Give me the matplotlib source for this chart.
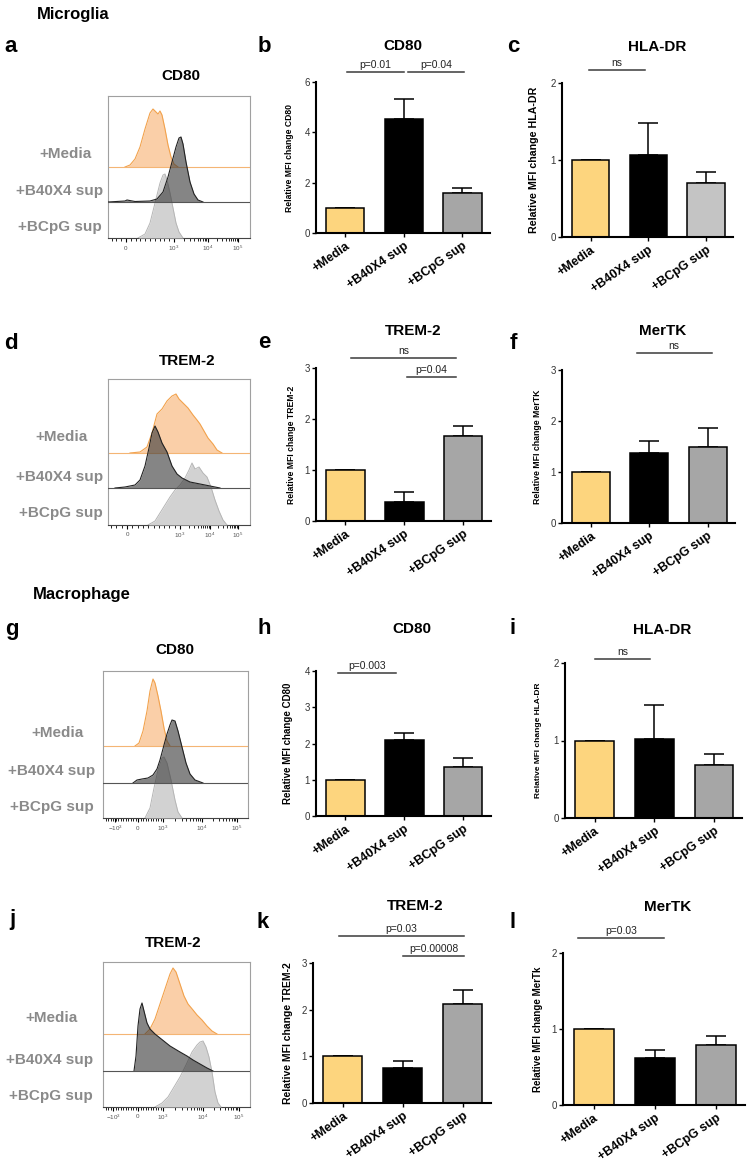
import numpy as np
import matplotlib
matplotlib.use("Agg")
from matplotlib import pyplot as plt

plt.rcParams['font.family'] = ['Liberation Sans', 'DejaVu Sans']
plt.rcParams['mathtext.default'] = 'regular'

W, H = 749, 1164

groups = ['+Media', '+B40X4 sup', '+BCpG sup']

# relative MFI (mean) and upper error
cd80_mg = [1.0, 4.52, 1.58]
cd80_mg_err = [0.0, 0.82, 0.19]
hladr_mg = [1.0, 1.06, 0.70]
hladr_mg_err = [0.0, 0.42, 0.15]
trem2_mg = [1.0, 0.38, 1.67]
trem2_mg_err = [0.0, 0.19, 0.19]
mertk_mg = [1.0, 1.37, 1.50]
mertk_mg_err = [0.0, 0.23, 0.36]
cd80_mac = [1.0, 2.10, 1.35]
cd80_mac_err = [0.0, 0.19, 0.26]
hladr_mac = [1.0, 1.02, 0.68]
hladr_mac_err = [0.0, 0.44, 0.15]
trem2_mac = [1.0, 0.75, 2.12]
trem2_mac_err = [0.0, 0.15, 0.30]
mertk_mac = [1.0, 0.62, 0.79]
mertk_mac_err = [0.0, 0.10, 0.12]

# flow histograms: channel (from left of plot) and count, per condition
a_media_x = [17, 22, 27, 32, 37, 42, 45, 48, 50, 52, 54, 57, 60, 63, 66, 70]
a_media_y = [0, 2, 8, 20, 38, 54, 58, 55, 53, 56, 52, 38, 22, 10, 3, 0]
a_b40_x = [0, 17, 19, 27, 42, 49, 55, 60, 64, 68, 71, 73, 75, 78, 82, 86, 90, 95]
a_b40_y = [0, 1, 2, 0.5, 1, 3, 10, 25, 40, 55, 64, 65, 58, 40, 20, 8, 2, 0]
a_bcpg_x = [30, 37, 42, 47, 52, 55, 57, 59, 62, 65, 68, 71, 75]
a_bcpg_y = [0, 4, 15, 35, 55, 63, 64, 58, 45, 30, 15, 6, 0]

d_media_x = [22, 32, 39, 44, 49, 54, 59, 64, 68, 71, 75, 80, 85, 89, 92, 96, 100, 105, 109, 114]
d_media_y = [0, 1, 6, 20, 39, 44, 52, 57, 59, 54, 50, 45, 38, 33, 29, 22, 15, 9, 3, 0]
d_b40_x = [7, 17, 27, 32, 37, 41, 44, 47, 50, 54, 59, 64, 69, 74, 82, 92, 102, 112]
d_b40_y = [0, 1, 3, 8, 22, 40, 55, 62, 56, 45, 36, 22, 14, 10, 6, 4, 2, 0]
d_bcpg_x = [40, 47, 52, 57, 62, 67, 72, 77, 81, 84, 87, 91, 95, 99, 103, 107, 111, 115, 119]
d_bcpg_y = [0, 4, 12, 20, 28, 35, 40, 47, 55, 62, 56, 58, 52, 48, 38, 25, 14, 5, 0]

g_media_x = [32, 36, 40, 44, 47, 50, 52, 55, 58, 61, 64, 67]
g_media_y = [0, 3, 15, 35, 55, 67, 63, 50, 35, 18, 5, 0]
g_b40_x = [30, 34, 39, 45, 50, 54, 57, 61, 64, 67, 69, 72, 75, 79, 83, 87, 92, 100]
g_b40_y = [0, 3, 4, 5, 8, 14, 23, 38, 49, 58, 63, 62, 52, 36, 20, 9, 3, 0]
g_bcpg_x = [42, 47, 51, 55, 59, 61, 64, 68, 72, 75, 79]
g_bcpg_y = [0, 10, 30, 48, 60, 61, 55, 38, 18, 6, 0]

j_media_x = [42, 47, 52, 57, 62, 67, 70, 73, 77, 81, 85, 90, 94, 99, 104, 109, 114]
j_media_y = [0, 5, 15, 30, 45, 60, 66, 62, 50, 38, 30, 24, 19, 14, 8, 3, 0]
j_b40_x = [31, 33, 35, 37, 39, 41, 44, 47, 52, 57, 62, 67, 72, 77, 84, 90, 97, 104, 110]
j_b40_y = [0, 15, 45, 62, 68, 60, 48, 42, 37, 33, 29, 25, 22, 19, 15, 11, 7, 3, 0]
j_bcpg_x = [52, 59, 65, 71, 77, 83, 89, 94, 97, 100, 103, 106, 109, 112, 115, 118]
j_bcpg_y = [0, 4, 10, 20, 30, 42, 55, 62, 65, 66, 60, 50, 35, 15, 4, 0]

tick_text_pos = ['0', '10$^3$', '10$^4$', '10$^5$']
tick_text_full = ['\u221210$^3$', '0', '10$^3$', '10$^4$', '10$^5$']

fig = plt.figure(figsize=(W / 100, H / 100), dpi=100)


def px_axes(x0, y0, x1, y1):
    return fig.add_axes([x0 / W, 1 - y1 / H, (x1 - x0) / W, (y1 - y0) / H])


def ftext(x, y, s, **kw):
    fig.text(x / W, 1 - y / H, s, **kw)


def hist_panel(box, curves, bases, ticks, tlabels, title, title_xy, label_xs, label_ys):
    x0, y0, x1, y1 = box
    ax = px_axes(x0, y0, x1, y1)
    ax.set_xlim(0, x1 - x0)
    ax.set_ylim(0, y1 - y0)
    (mx, my), (bx, by), (cx, cy) = curves
    b_b40, b_med = bases
    mx, my = np.array(mx), np.array(my) + b_med
    ax.fill_between(mx, b_med, my, color='#F9C393', alpha=0.8, lw=0, zorder=1)
    ax.plot(mx, my, color='#F2A24C', lw=0.8, zorder=2)
    ax.axhline(b_med, color='#F4B574', lw=0.8, zorder=2)
    ax.fill_between(cx, 0, cy, color='#D2D2D2', lw=0, zorder=3)
    ax.plot(cx, cy, color='#B5B5B5', lw=0.7, zorder=3)
    by = np.array(by) + b_b40
    ax.fill_between(bx, b_b40, by, color='#3a3a3a', alpha=0.62, lw=0, zorder=4)
    ax.plot(bx, by, color='#222222', lw=0.8, zorder=5)
    ax.axhline(b_b40, color='#555555', lw=0.8, zorder=5)
    for s in ax.spines.values():
        s.set_color('#A0A0A0')
        s.set_linewidth(0.8)
    ax.spines['bottom'].set_color('#444444')
    # minor ticks on the biex scale
    p3, p4, p5 = ticks[-3], ticks[-2], ticks[-1]
    minors = []
    for a, b in [(p3, p4), (p4, p5)]:
        minors += [a + np.log10(m) * (b - a) for m in range(2, 10)]
    step = (p3 - ticks[-4]) / 10
    minors += list(np.arange(p3 - step, 0, -step))
    ax.set_xticks(ticks)
    ax.set_xticks(minors, minor=True)
    ax.set_xticklabels([])
    ax.set_yticks([])
    ax.tick_params(axis='x', which='major', length=3, width=0.8, color='black')
    ax.tick_params(axis='x', which='minor', length=1.8, width=0.6, color='black')
    for t, lab in zip(ticks, tlabels):
        ftext(x0 + t, y1 + 10, lab, fontsize=4.5, color='#555555', ha='center', va='center')
    ftext(title_xy[0], title_xy[1], title, fontsize=11, fontweight='bold', ha='center', va='center')
    for lx, ly, g in zip(label_xs, label_ys, groups):
        ftext(lx, ly, g, fontsize=11, fontweight='bold', color='#8A8A8A', ha='center', va='center')


def bar_panel(box, vals, errs, yticks, title, title_xy, ylabel, ylab_x, ylab_fs, sigs, grey):
    x0, y0, x1, y1 = box
    ax = px_axes(x0, y0, x1, y1)
    xs = np.arange(len(groups))
    ax.bar(xs, vals, width=0.65, color=['#FDD57E', 'black', grey], edgecolor='black',
           linewidth=1.1, zorder=2)
    ax.errorbar(xs, vals, yerr=[np.zeros(len(vals)), errs], fmt='none', ecolor='black',
                elinewidth=1.1, capsize=7, capthick=1.1, zorder=1)
    ax.set_xlim(-0.5, 2.47)
    ax.set_ylim(0, yticks[-1])
    ax.spines['top'].set_visible(False)
    ax.spines['right'].set_visible(False)
    ax.spines['left'].set_linewidth(1.5)
    ax.spines['bottom'].set_linewidth(1.5)
    ax.set_yticks(yticks)
    ax.set_xticks(xs)
    ax.set_xticklabels(groups, rotation=35, ha='right', rotation_mode='anchor',
                       fontsize=9, fontweight='bold')
    ax.tick_params(axis='y', length=3, width=1, labelsize=7, pad=1.5, labelcolor='#333333')
    ax.tick_params(axis='x', length=3, width=1, pad=2)
    ftext(ylab_x, (y0 + y1) / 2, ylabel, fontsize=ylab_fs, fontweight='bold',
          rotation=90, ha='center', va='center')
    ftext(title_xy[0], title_xy[1], title, fontsize=11, fontweight='bold', ha='center', va='center')
    for xa, xb, y, lab in sigs:
        ax.plot([xa, xb], [y, y], color='#3a3a3a', lw=1.1, clip_on=False)
        ax.annotate(lab, xy=((xa + xb) / 2, y), xytext=(0, 1.5), textcoords='offset points',
                    ha='center', va='bottom', fontsize=7.5, color='#222222', annotation_clip=False)


# section headings and panel letters
ftext(37, 14, 'Microglia', fontsize=12, fontweight='bold', va='center')
ftext(33, 594, 'Macrophage', fontsize=12, fontweight='bold', va='center')
for lab, x, y in [('a', 11, 47), ('b', 264, 47), ('c', 513, 47),
                  ('d', 11, 343), ('e', 264, 342), ('f', 513, 343),
                  ('g', 12, 630), ('h', 264, 629), ('i', 513, 629),
                  ('j', 12, 920), ('k', 263, 922), ('l', 513, 922)]:
    ftext(x, y, lab, fontsize=16, fontweight='bold', ha='center', va='center')

# histograms
hist_panel((108, 96, 250, 238),
           [(a_media_x, a_media_y), (a_b40_x, a_b40_y), (a_bcpg_x, a_bcpg_y)],
           (36, 71), [18, 66, 100, 130], tick_text_pos, 'CD80', (181, 76),
           [65, 60, 60], [154, 191, 227])
hist_panel((108, 379, 250, 525),
           [(d_media_x, d_media_y), (d_b40_x, d_b40_y), (d_bcpg_x, d_bcpg_y)],
           (37, 72), [19, 72, 102, 130], tick_text_pos, 'TREM-2', (187, 361),
           [62, 60, 61], [437, 477, 513])
hist_panel((103, 671, 248, 818),
           [(g_media_x, g_media_y), (g_b40_x, g_b40_y), (g_bcpg_x, g_bcpg_y)],
           (35, 72), [12, 35, 60, 99, 134], tick_text_full, 'CD80', (175, 650),
           [58, 52, 52], [733, 771, 807])
hist_panel((103, 962, 250, 1107),
           [(j_media_x, j_media_y), (j_b40_x, j_b40_y), (j_bcpg_x, j_bcpg_y)],
           (36, 73), [10, 35, 60, 100, 136], tick_text_full, 'TREM-2', (173, 943),
           [52, 50, 51], [1018, 1060, 1096])

# bar charts
bar_panel((316, 82, 490, 233), cd80_mg, cd80_mg_err, [0, 2, 4, 6], 'CD80', (403, 46),
          'Relative MFI change CD80', 289, 6.2,
          [(0.03, 1.0, 6.4, 'p=0.01'), (1.07, 2.02, 6.4, 'p=0.04')], '#A6A6A6')
bar_panel((562, 83, 733, 237), hladr_mg, hladr_mg_err, [0, 1, 2], 'HLA-DR', (657, 47),
          'Relative MFI change HLA-DR', 534, 7.7,
          [(-0.03, 0.95, 2.17, 'ns')], '#C4C4C4')
bar_panel((316, 368, 491, 521), trem2_mg, trem2_mg_err, [0, 1, 2, 3], 'TREM-2', (413, 331),
          'Relative MFI change TREM-2', 292, 6.2,
          [(0.09, 1.88, 3.2, 'ns'), (1.04, 1.88, 2.82, 'p=0.04')], '#A6A6A6')
bar_panel((562, 370, 735, 523), mertk_mg, mertk_mg_err, [0, 1, 2, 3], 'MerTK', (663, 331),
          'Relative MFI change MerTK', 537, 6.3,
          [(0.78, 2.07, 3.33, 'ns')], '#A6A6A6')
bar_panel((316, 671, 491, 816), cd80_mac, cd80_mac_err, [0, 1, 2, 3, 4], 'CD80', (412, 629),
          'Relative MFI change CD80', 288, 7.0,
          [(-0.12, 0.85, 3.94, 'p=0.003')], '#A6A6A6')
bar_panel((565, 663, 742, 818), hladr_mac, hladr_mac_err, [0, 1, 2], 'HLA-DR', (662, 630),
          'Relative MFI change HLA-DR', 539, 6.0,
          [(0.0, 0.93, 2.05, 'ns')], '#A6A6A6')
bar_panel((313, 963, 491, 1103), trem2_mac, trem2_mac_err, [0, 1, 2, 3], 'TREM-2', (415, 906),
          'Relative MFI change TREM-2', 288, 7.5,
          [(-0.07, 2.02, 3.58, 'p=0.03'), (1.0, 2.02, 3.15, 'p=0.00008')], '#A6A6A6')
bar_panel((563, 953, 745, 1105), mertk_mac, mertk_mac_err, [0, 1, 2], 'MerTK', (668, 907),
          'Relative MFI change MerTk', 538, 7.0,
          [(-0.26, 1.15, 2.2, 'p=0.03')], '#A6A6A6')

fig.savefig('out.png', dpi=100)
